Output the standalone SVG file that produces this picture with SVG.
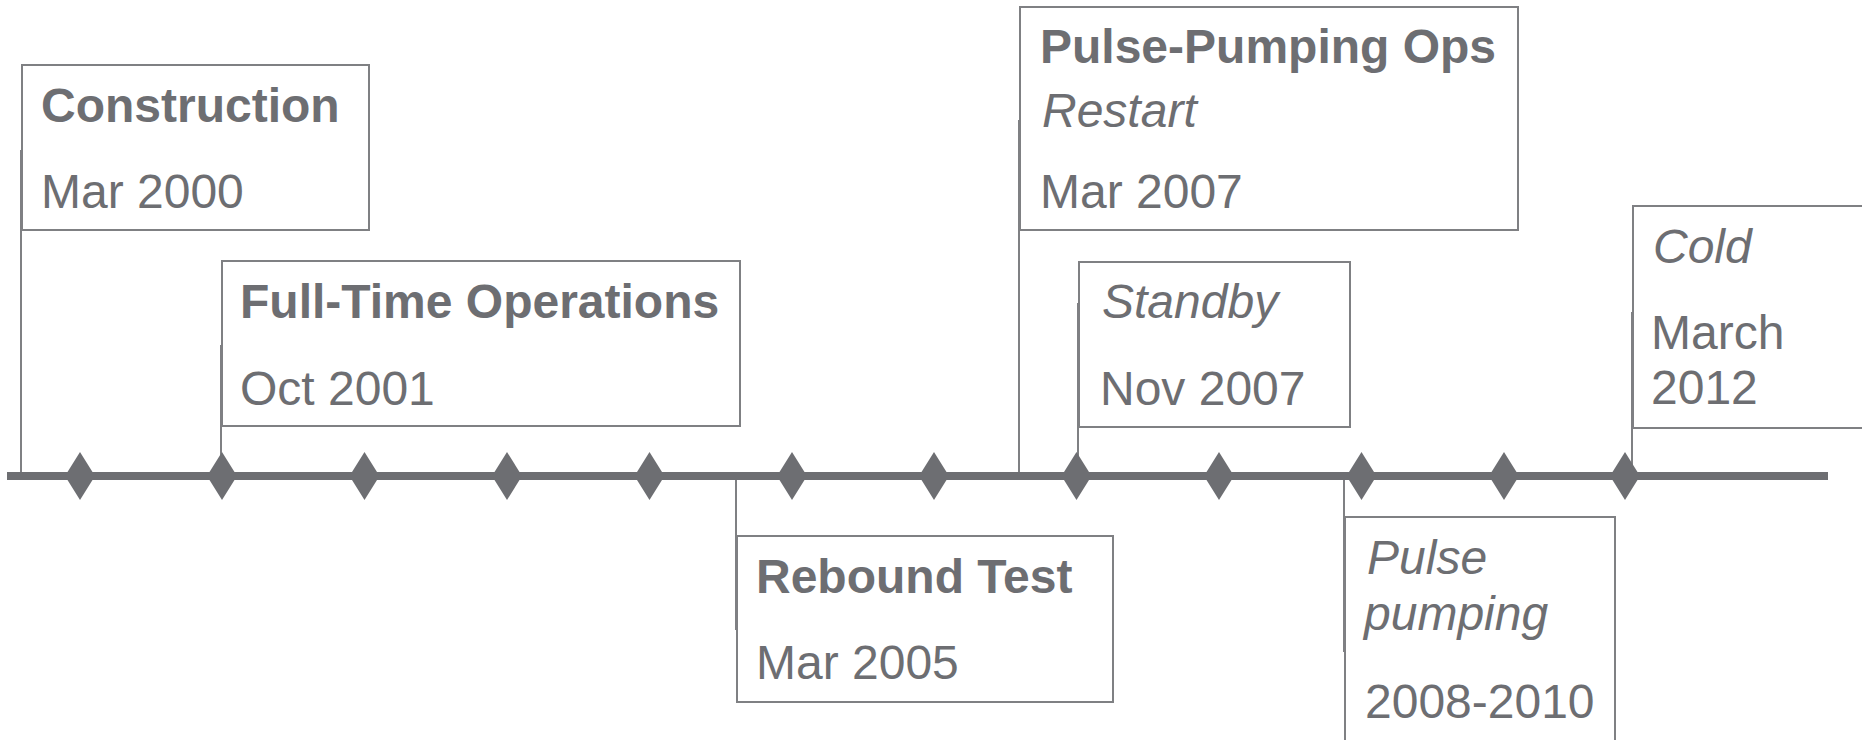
<svg xmlns="http://www.w3.org/2000/svg" width="1862" height="740" viewBox="0 0 1862 740">
<style>
.box{fill:#fff;stroke:#7f8083;stroke-width:2}
.con{stroke:#7f8083;stroke-width:2;fill:none}
.t{font-family:"Liberation Sans",Arial,sans-serif;font-size:48px;fill:#6d6e72}
.b{font-weight:bold}
.i{font-style:italic}
.dia{fill:#6d6e72}
</style>
<defs>
<polygon id="d" points="0,-24 15,0 0,24 -15,0"/>
</defs>
<rect width="1862" height="740" fill="#fff"/>
<g id="connectors">
<line class="con" x1="21" y1="150" x2="21" y2="472"/>
<line class="con" x1="221" y1="345" x2="221" y2="472"/>
<line class="con" x1="736" y1="476" x2="736" y2="630"/>
<line class="con" x1="1019" y1="120" x2="1019" y2="472"/>
<line class="con" x1="1078" y1="303" x2="1078" y2="472"/>
<line class="con" x1="1344" y1="476" x2="1344" y2="652"/>
<line class="con" x1="1632" y1="312" x2="1632" y2="472"/>
</g>
<g id="timeline">
<rect x="7" y="472" width="1821" height="8" fill="#6d6e72"/>
<use href="#d" class="dia" x="80" y="476"/>
<use href="#d" class="dia" x="222" y="476"/>
<use href="#d" class="dia" x="364.5" y="476"/>
<use href="#d" class="dia" x="507" y="476"/>
<use href="#d" class="dia" x="649.5" y="476"/>
<use href="#d" class="dia" x="792" y="476"/>
<use href="#d" class="dia" x="934" y="476"/>
<use href="#d" class="dia" x="1076.5" y="476"/>
<use href="#d" class="dia" x="1219" y="476"/>
<use href="#d" class="dia" x="1361.5" y="476"/>
<use href="#d" class="dia" x="1504" y="476"/>
<use href="#d" class="dia" x="1625" y="476"/>
</g>
<g id="construction">
<rect class="box" x="22" y="65" width="347" height="165"/>
<text class="t b" x="41" y="122">Construction</text>
<text class="t" x="41" y="208">Mar 2000</text>
</g>
<g id="fulltime">
<rect class="box" x="222" y="261" width="518" height="165"/>
<text class="t b" x="240" y="318">Full-Time Operations</text>
<text class="t" x="240" y="405">Oct 2001</text>
</g>
<g id="rebound">
<rect class="box" x="737" y="536" width="376" height="166"/>
<text class="t b" x="756" y="593">Rebound Test</text>
<text class="t" x="756" y="679">Mar 2005</text>
</g>
<g id="pulseops">
<rect class="box" x="1020" y="7" width="498" height="223"/>
<text class="t b" x="1040" y="63">Pulse-Pumping Ops</text>
<text class="t i" x="1042" y="127">Restart</text>
<text class="t" x="1040" y="208">Mar 2007</text>
</g>
<g id="standby">
<rect class="box" x="1079" y="262" width="271" height="165"/>
<text class="t i" x="1102" y="318">Standby</text>
<text class="t" x="1100" y="405">Nov 2007</text>
</g>
<g id="pulsepumping">
<rect class="box" x="1345" y="517" width="270" height="225"/>
<text class="t i" x="1367" y="574">Pulse</text>
<text class="t i" x="1364" y="630">pumping</text>
<text class="t" x="1365" y="718">2008-2010</text>
</g>
<g id="cold">
<rect class="box" x="1633" y="206" width="240" height="222"/>
<text class="t i" x="1653" y="263">Cold</text>
<text class="t" x="1651" y="349">March</text>
<text class="t" x="1651" y="404">2012</text>
</g>
</svg>
